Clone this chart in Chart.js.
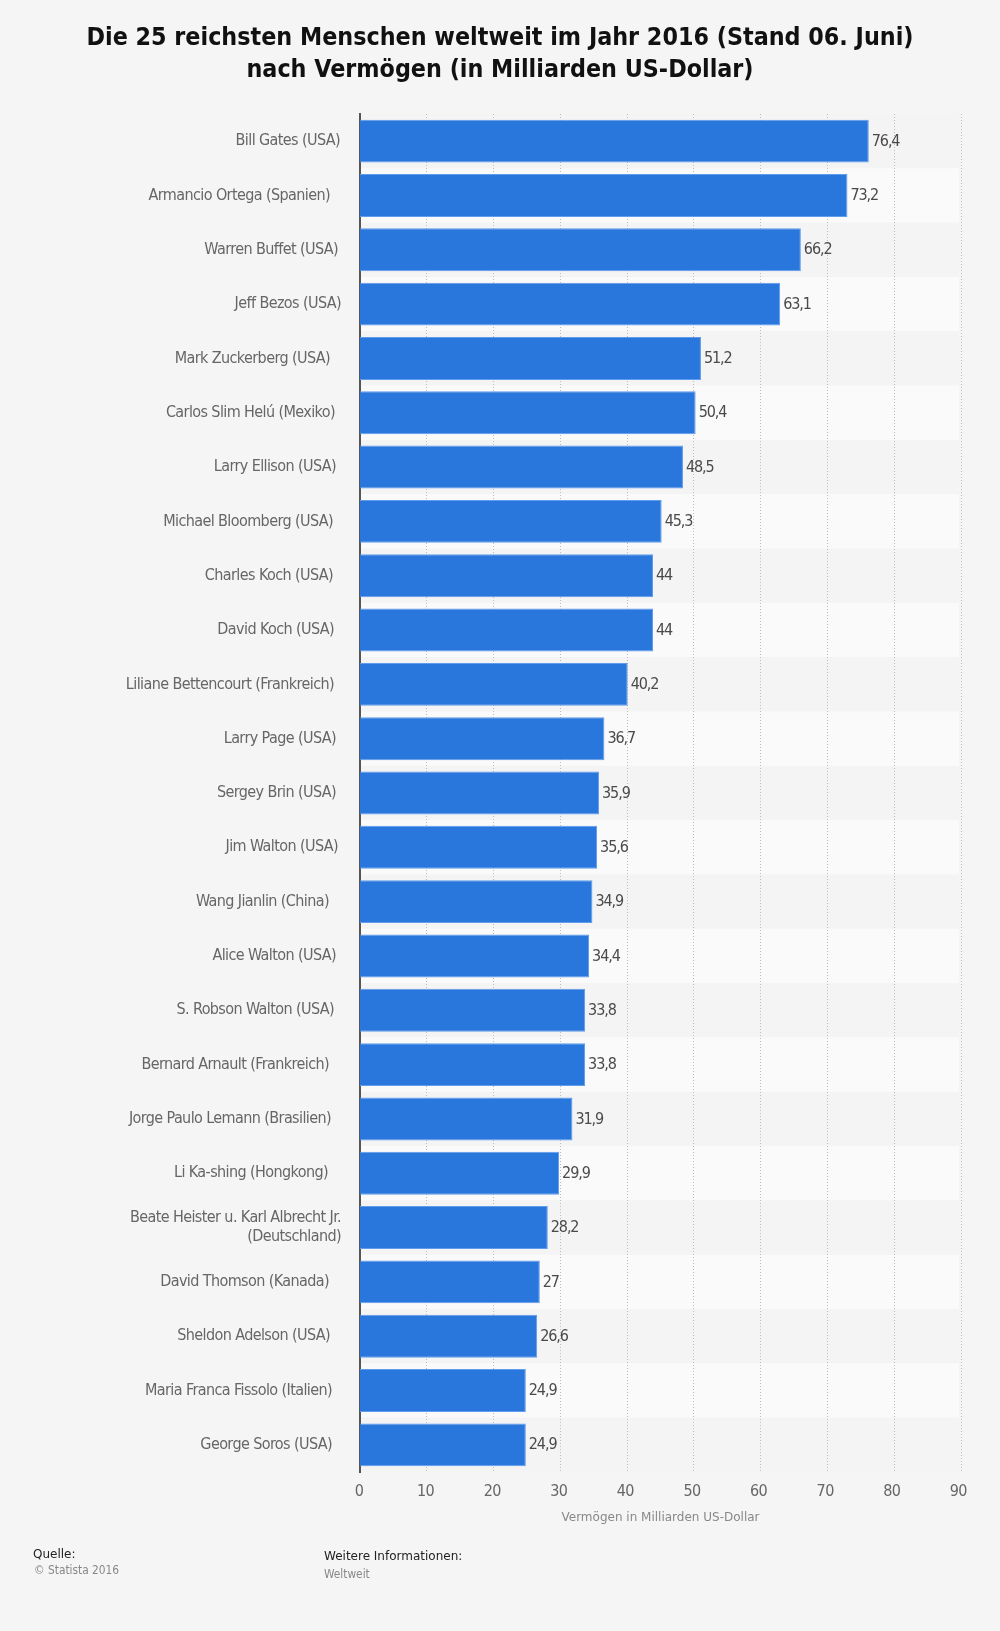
<!DOCTYPE html>
<html lang="de">
<head>
<meta charset="utf-8">
<title>Die 25 reichsten Menschen weltweit</title>
<script src="https://cdn.jsdelivr.net/npm/chart.js"></script>
<style>
    html, body { margin: 0; padding: 0; background: #f5f5f5; }
    #page { position: relative; width: 1000px; height: 1631px; overflow: hidden; }
    #page div { position: absolute; white-space: nowrap; }
    #chartTitle {
        left: 0; width: 1000px; top: 21px; text-align: center;
        font: bold 24.8px/32px "DejaVu Sans Condensed"; color: #111;
    }
    .head { font: 12px/16px "DejaVu Sans"; color: #222; }
    .sub { font: 11.8px/16px "DejaVu Sans Condensed"; color: #888; }
</style>
</head>
<body>
<div id="page">
    <canvas id="richChart" width="1000" height="1631"></canvas>
    <div id="chartTitle">Die 25 reichsten Menschen weltweit im Jahr 2016 (Stand 06. Juni)<br>nach Vermögen (in Milliarden US-Dollar)</div>
    <div class="head" style="left:33px;top:1546px">Quelle:</div>
    <div class="sub" style="left:34px;top:1562px">© Statista 2016</div>
    <div class="head" style="left:324px;top:1548px">Weitere Informationen:</div>
    <div class="sub" style="left:324px;top:1566px">Weltweit</div>
</div>

<script>
    const people = [
        'Bill Gates (USA)', 'Armancio Ortega (Spanien)', 'Warren Buffet (USA)', 'Jeff Bezos (USA)',
        'Mark Zuckerberg (USA)', 'Carlos Slim Helú (Mexiko)', 'Larry Ellison (USA)', 'Michael Bloomberg (USA)',
        'Charles Koch (USA)', 'David Koch (USA)', 'Liliane Bettencourt (Frankreich)', 'Larry Page (USA)',
        'Sergey Brin (USA)', 'Jim Walton (USA)', 'Wang Jianlin (China)', 'Alice Walton (USA)',
        'S. Robson Walton (USA)', 'Bernard Arnault (Frankreich)', 'Jorge Paulo Lemann (Brasilien)',
        'Li Ka-shing (Hongkong)', ['Beate Heister u. Karl Albrecht Jr.', '(Deutschland)'],
        'David Thomson (Kanada)', 'Sheldon Adelson (USA)', 'Maria Franca Fissolo (Italien)', 'George Soros (USA)'
    ];
    const wealth = [
        76.4, 73.2, 66.2, 63.1, 51.2, 50.4, 48.5, 45.3, 44, 44, 40.2, 36.7, 35.9,
        35.6, 34.9, 34.4, 33.8, 33.8, 31.9, 29.9, 28.2, 27, 26.6, 24.9, 24.9
    ];
    const xTicks = [0, 10, 20, 30, 40, 50, 60, 70, 80, 90];

    // the source picture does not right align its names, so each one gets its own gap
    const nameGaps = [1, 11, 3, 0, 11, 6, 5, 8, 8, 7, 7, 5, 5, 3, 12, 5, 7, 12, 10, 13, 0, 12, 11, 9, 9];

    const labelFont = { family: 'DejaVu Sans Condensed', size: 16 };

    // alternating stripes behind the bars
    const stripes = {
        id: 'stripes',
        beforeDraw(chart) {
            const { ctx, chartArea, scales } = chart;
            const half = (scales.y.getPixelForValue(1) - scales.y.getPixelForValue(0)) / 2;
            ctx.save();
            people.forEach((name, i) => {
                const mid = scales.y.getPixelForValue(i);
                ctx.fillStyle = i % 2 ? '#fafafa' : '#f4f4f4';
                ctx.fillRect(chartArea.left, mid - half, chartArea.width - 2, half * 2);
            });
            ctx.restore();

            // move the native labels
            scales.y.getLabelItems(chartArea).forEach((item, i) => {
                if (item.moved) return;
                item.moved = true;
                item.options.translation[0] -= nameGaps[i];
            });
            scales.x.getLabelItems(chartArea).forEach(item => {
                if (item.moved) return;
                item.moved = true;
                item.options.translation[0] -= 1;
            });
        }
    };

    // value next to the end of every bar, tick labels (z 1) are drawn right after this
    const valueLabels = {
        id: 'valueLabels',
        afterDatasetsDraw(chart) {
            const { ctx } = chart;
            ctx.save();
            ctx.letterSpacing = '-1.1px';
            ctx.font = labelFont.size + 'px "' + labelFont.family + '"';
            ctx.fillStyle = '#4a4a4a';
            ctx.textBaseline = 'middle';
            chart.getDatasetMeta(0).data.forEach((bar, i) => {
                ctx.fillText(String(wealth[i]).replace('.', ','), bar.x + 3, bar.y + 0.5);
            });
            ctx.restore();
            ctx.letterSpacing = '-0.6px';
        },
        afterDraw(chart) {
            chart.ctx.letterSpacing = '0px';
        }
    };

    new Chart(document.getElementById('richChart'), {
        type: 'bar',
        data: {
            labels: people,
            datasets: [{
                data: wealth,
                backgroundColor: '#2976dd',
                borderColor: '#5f9ceb',
                borderWidth: 1,
                borderSkipped: 'start',
                barPercentage: 0.79,
                categoryPercentage: 1
            }]
        },
        plugins: [stripes, valueLabels],
        options: {
            indexAxis: 'y',
            responsive: false,
            animation: false,
            layout: { padding: { top: 114, right: 39 } },
            plugins: { legend: { display: false }, tooltip: { enabled: false } },
            scales: {
                y: {
                    grid: { display: false },
                    border: { color: '#555', width: 2 },
                    ticks: { color: '#666', font: labelFont, padding: 11, autoSkip: false, z: 1 },
                    afterFit: scale => { scale.width = 360; }
                },
                // bars and tick labels are a little tighter than the dotted lines
                x: {
                    min: 0,
                    max: 90.25,
                    grid: { display: false },
                    border: { display: false },
                    ticks: { color: '#666', font: labelFont, padding: 2, maxRotation: 0, z: 1 },
                    afterBuildTicks: scale => { scale.ticks = xTicks.map(value => ({ value })); },
                    title: {
                        display: true,
                        text: 'Vermögen in Milliarden US-Dollar',
                        color: '#888',
                        font: { family: 'DejaVu Sans', size: 12 },
                        padding: { top: 0, bottom: 106 }
                    },
                    afterFit: scale => { scale.height = 159; }
                },
                gridLines: {
                    axis: 'x',
                    position: 'top',
                    min: 0,
                    max: 90,
                    grid: { color: '#bbb', lineWidth: 1, drawTicks: false },
                    border: { display: false, dash: [1, 2] },
                    ticks: { display: false, stepSize: 10 },
                    afterFit: scale => { scale.height = 0; }
                }
            }
        }
    });
</script>
</body>
</html>
